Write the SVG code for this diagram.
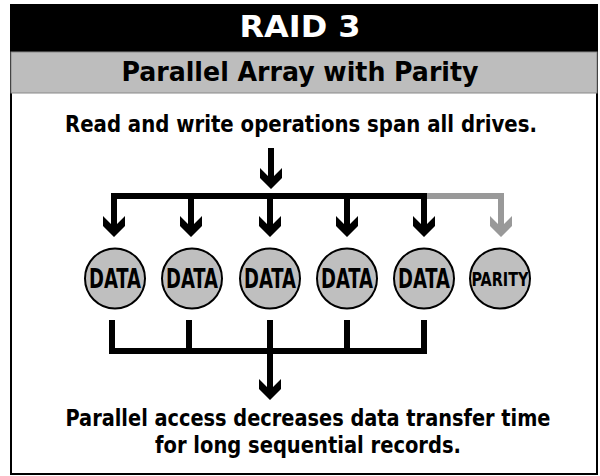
<svg xmlns="http://www.w3.org/2000/svg" xmlns:xlink="http://www.w3.org/1999/xlink" width="600" height="476" viewBox="0 0 600 476">
<style>
.t{font-family:"DejaVu Sans Condensed","DejaVu Sans",sans-serif;font-stretch:condensed;font-weight:bold;text-anchor:middle}
.disk{fill:#bfbfbf;stroke:#000;stroke-width:2}
.ln{fill:none;stroke:#000;stroke-width:6}
.gl{fill:none;stroke:#999;stroke-width:6}
</style>
<defs>
<path id="ah" d="M-11,-21 L0,-10 L11,-21 L11,-11 L0,0 L-11,-11 Z"/>
</defs>
<rect x="0" y="0" width="600" height="476" fill="#fff"/>
<rect x="11" y="5" width="586" height="469" fill="#fff" stroke="#000" stroke-width="2"/>
<rect x="10" y="5" width="588" height="47" fill="#000"/>
<rect x="11" y="52" width="586" height="41" fill="#bdbdbd" stroke="#888" stroke-width="1"/>
<g id="title"><text class="t" x="300" y="37" font-size="31" fill="#fff" textLength="121" lengthAdjust="spacingAndGlyphs">RAID 3</text></g>
<g id="subtitle"><text class="t" x="300" y="81" font-size="27" fill="#000" textLength="357" lengthAdjust="spacingAndGlyphs">Parallel Array with Parity</text></g>
<g id="top-label"><text class="t" x="301" y="132" font-size="23" fill="#000" textLength="472" lengthAdjust="spacingAndGlyphs">Read and write operations span all drives.</text></g>
<g id="connectors">
<line class="ln" x1="271" y1="148" x2="271" y2="180"/>
<use xlink:href="#ah" x="271" y="189"/>
<polyline class="gl" points="424,196 501,196 501,228"/>
<use xlink:href="#ah" x="501" y="237" fill="#999"/>
<polyline class="ln" points="114,229 114,196 427,196"/>
<line class="ln" x1="191" y1="196" x2="191" y2="229"/>
<line class="ln" x1="270" y1="196" x2="270" y2="229"/>
<line class="ln" x1="347" y1="196" x2="347" y2="229"/>
<line class="ln" x1="424" y1="193" x2="424" y2="229"/>
<use xlink:href="#ah" x="114" y="237"/>
<use xlink:href="#ah" x="191" y="237"/>
<use xlink:href="#ah" x="270" y="237"/>
<use xlink:href="#ah" x="347" y="237"/>
<use xlink:href="#ah" x="424" y="237"/>
<polyline class="ln" points="112,320 112,351 424,351 424,320"/>
<line class="ln" x1="189" y1="320" x2="189" y2="351"/>
<line class="ln" x1="347" y1="320" x2="347" y2="351"/>
<line class="ln" x1="270" y1="320" x2="270" y2="392"/>
<use xlink:href="#ah" x="270" y="400"/>
</g>
<g id="disk1"><circle class="disk" cx="115" cy="278.5" r="30"/><text class="t" x="115" y="288" font-size="26" textLength="52" lengthAdjust="spacingAndGlyphs">DATA</text></g>
<g id="disk2"><circle class="disk" cx="192" cy="278.5" r="30"/><text class="t" x="192" y="288" font-size="26" textLength="52" lengthAdjust="spacingAndGlyphs">DATA</text></g>
<g id="disk3"><circle class="disk" cx="270" cy="278.5" r="30"/><text class="t" x="270" y="288" font-size="26" textLength="52" lengthAdjust="spacingAndGlyphs">DATA</text></g>
<g id="disk4"><circle class="disk" cx="347" cy="278.5" r="30"/><text class="t" x="347" y="288" font-size="26" textLength="52" lengthAdjust="spacingAndGlyphs">DATA</text></g>
<g id="disk5"><circle class="disk" cx="424" cy="278.5" r="30"/><text class="t" x="424" y="288" font-size="26" textLength="52" lengthAdjust="spacingAndGlyphs">DATA</text></g>
<g id="parity"><circle class="disk" cx="500" cy="278.5" r="30"/><text class="t" x="500" y="285.5" font-size="20" textLength="57" lengthAdjust="spacingAndGlyphs">PARITY</text></g>
<g id="bottom-label">
<text class="t" x="308" y="426" font-size="23" fill="#000" textLength="485" lengthAdjust="spacingAndGlyphs">Parallel access decreases data transfer time</text>
<text class="t" x="308" y="453" font-size="23" fill="#000" textLength="306" lengthAdjust="spacingAndGlyphs">for long sequential records.</text>
</g>
</svg>
